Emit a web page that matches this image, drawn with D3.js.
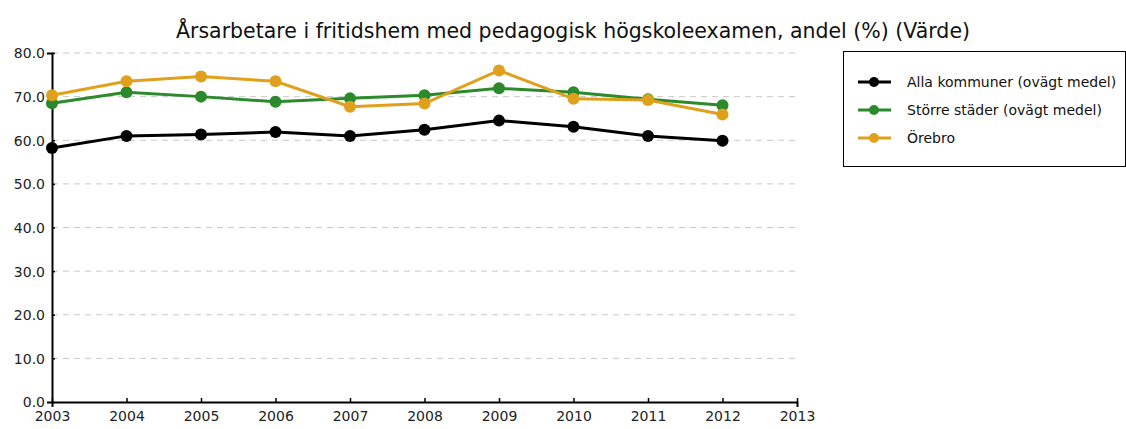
<!DOCTYPE html>
<html>
<head>
<meta charset="utf-8">
<title>Årsarbetare i fritidshem</title>
<script src="https://cdn.jsdelivr.net/npm/d3@7"></script>
<style>
	body { margin: 0; background: #fff; }
	svg { font-family: "DejaVu Sans", sans-serif; }
</style>
</head>
<body>
<div id="chart"></div>
<script>
var years = [2003, 2004, 2005, 2006, 2007, 2008, 2009, 2010, 2011, 2012];
var allaKommuner = [58.2, 61.0, 61.3, 61.9, 61.0, 62.4, 64.5, 63.1, 61.0, 59.9];
var storreStader = [68.5, 71.0, 70.0, 68.8, 69.6, 70.3, 71.9, 71.0, 69.4, 68.0];
var orebro = [70.3, 73.5, 74.6, 73.5, 67.7, 68.4, 76.0, 69.5, 69.2, 65.9];
var seriesNames = ["Alla kommuner (ovägt medel)", "Större städer (ovägt medel)", "Örebro"];
var yTicks = [0, 10, 20, 30, 40, 50, 60, 70, 80];
var xTicks = [2003, 2004, 2005, 2006, 2007, 2008, 2009, 2010, 2011, 2012, 2013];

var colors = ["#000000", "#2b8a2b", "#e0a01c"];
var series = [allaKommuner, storreStader, orebro].map(function(vals, i) {
	return { name: seriesNames[i], color: colors[i], values: vals.map(function(v, j) { return { year: years[j], value: v }; }) };
});

var width = 1126, height = 429;
var plot = { left: 52, right: 797, top: 53, bottom: 402 };

var svg = d3.select("#chart").append("svg")
	.attr("width", width)
	.attr("height", height);

var x = d3.scaleLinear().domain([2003, 2013]).range([plot.left, plot.right]);
var y = d3.scaleLinear().domain([0, 80]).range([plot.bottom, plot.top]);

// title
svg.append("text")
	.attr("x", 573)
	.attr("y", 38)
	.attr("text-anchor", "middle")
	.style("font-size", "20.5px")
	.style("fill", "#111")
	.text("Årsarbetare i fritidshem med pedagogisk högskoleexamen, andel (%) (Värde)");

// grid lines
svg.append("g")
	.selectAll("line")
	.data(yTicks.filter(function(d) { return d > 0; }))
	.enter()
	.append("line")
	.attr("x1", plot.left)
	.attr("x2", plot.right)
	.attr("y1", function(d) { return y(d); })
	.attr("y2", function(d) { return y(d); })
	.style("stroke", "#c8c8c8")
	.style("stroke-width", 1)
	.style("stroke-dasharray", "6,5");

// axes
var yAxis = svg.append("g")
	.attr("transform", "translate(" + plot.left + ",0)")
	.call(d3.axisLeft(y).tickValues(yTicks).tickSize(5).tickFormat(d3.format(".1f")));
var xAxis = svg.append("g")
	.attr("transform", "translate(0," + plot.bottom + ")")
	.call(d3.axisBottom(x).tickValues(xTicks).tickSize(5).tickFormat(d3.format("d")));

[yAxis, xAxis].forEach(function(a) {
	a.select(".domain").style("stroke", "#000").style("stroke-width", 2);
	a.selectAll(".tick line").style("stroke", "#000").style("stroke-width", 1.5);
	a.selectAll("text").style("font-size", "14px").style("fill", "#222")
		.style("font-family", "\"DejaVu Sans\", sans-serif");
});
yAxis.selectAll(".tick line").attr("x2", 3);
yAxis.selectAll("text").attr("x", -7).attr("dy", "0.35em");
xAxis.selectAll(".tick line").attr("y2", -4).attr("y1", 0);
xAxis.selectAll("text").attr("y", 9).attr("dy", "0.71em");

// lines
var line = d3.line()
	.x(function(d) { return x(d.year); })
	.y(function(d) { return y(d.value); });

var seriesGroup = svg.selectAll(".series")
	.data(series)
	.enter()
	.append("g")
	.attr("class", "series");

seriesGroup.append("path")
	.attr("d", function(d) { return line(d.values); })
	.style("fill", "none")
	.style("stroke", function(d) { return d.color; })
	.style("stroke-width", 3);

seriesGroup.selectAll("circle")
	.data(function(d) { return d.values.map(function(v) { return { year: v.year, value: v.value, color: d.color }; }); })
	.enter()
	.append("circle")
	.attr("cx", function(d) { return x(d.year); })
	.attr("cy", function(d) { return y(d.value); })
	.attr("r", 6)
	.style("fill", function(d) { return d.color; });

// legend
var legend = svg.append("g").attr("transform", "translate(843,51)");
legend.append("rect")
	.attr("x", 0.5)
	.attr("y", 0.5)
	.attr("width", 282)
	.attr("height", 115)
	.style("fill", "#fff")
	.style("stroke", "#000")
	.style("stroke-width", 1);

var legendItems = legend.selectAll(".legend-item")
	.data(series)
	.enter()
	.append("g")
	.attr("class", "legend-item")
	.attr("transform", function(d, i) { return "translate(0," + (31 + i * 28) + ")"; });

legendItems.append("line")
	.attr("x1", 15)
	.attr("x2", 48)
	.style("stroke", function(d) { return d.color; })
	.style("stroke-width", 3);
legendItems.append("circle")
	.attr("cx", 31)
	.attr("r", 5)
	.style("fill", function(d) { return d.color; });
legendItems.append("text")
	.attr("x", 64)
	.attr("dy", "0.35em")
	.style("font-size", "14px")
	.style("fill", "#111")
	.text(function(d) { return d.name; });
</script>
</body>
</html>
